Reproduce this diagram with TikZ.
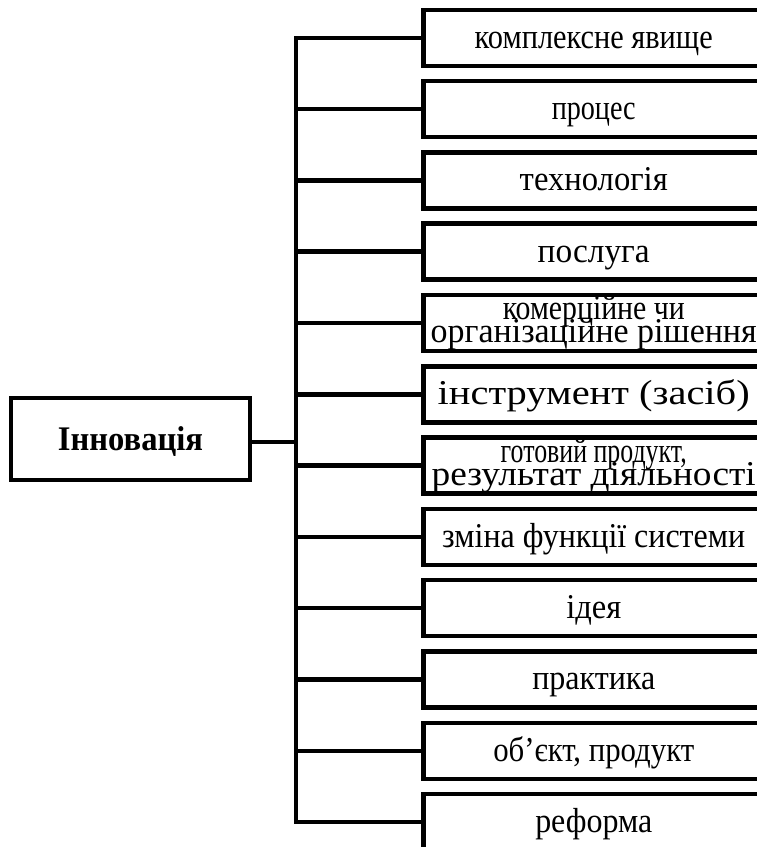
\documentclass[tikz,border=0pt]{standalone}
\usepackage{fontspec}
\setmainfont{Liberation Serif}
\usepackage{graphicx}

% one line of box text, stretched to a given width and set tall
\newcommand\tl[2]{\resizebox{#1}{1.2\height}{#2}}
% two centred lines of box text, each stretched to its own width
\newcommand\ttl[4]{\vbox{\baselineskip=23pt\lineskiplimit=-100pt\lineskip=0pt
  \halign{\hfil##\hfil\cr\tl{#1}{#2}\cr\tl{#3}{#4}\cr}}}

\begin{document}
\begin{tikzpicture}[x=1pt,y=-1pt,
  line width=4.5pt,
  itembox/.style={draw, anchor=north west, minimum width=341pt, minimum height=56pt,
    inner sep=0pt, text height=38.5pt, text depth=17.5pt,
    font=\fontsize{29}{29}\selectfont},
  twobox/.style={itembox, text height=47.5pt, text depth=8.5pt},
  rootbox/.style={draw, anchor=center, minimum width=239pt, minimum height=82pt,
    inner sep=0pt, text height=52pt, text depth=30pt,
    font=\fontsize{30}{30}\selectfont\bfseries},
  link/.style={line join=miter}]
\useasboundingbox (0,0) rectangle (757,847);
\clip (0,0) rectangle (757,847);

\node[rootbox] (root) at (130.5,439) {\resizebox{145pt}{1.15\height}{Інновація}};

\node[itembox] (b1)  at (421,7.5)   {\tl{238pt}{комплексне явище}};
\node[itembox] (b2)  at (421,78.8)  {\tl{84pt}{процес}};
\node[itembox] (b3)  at (421,150.1) {\tl{148pt}{технологія}};
\node[itembox] (b4)  at (421,221.4) {\tl{112pt}{послуга}};
\node[twobox]  (b5)  at (421,292.7) {\ttl{182pt}{комерційне чи}{326pt}{організаційне рішення}};
\node[itembox] (b6)  at (421,364.0) {\tl{312pt}{інструмент (засіб)}};
\node[twobox]  (b7)  at (421,435.3) {\ttl{186pt}{готовий продукт,}{324pt}{результат діяльності}};
\node[itembox] (b8)  at (421,506.6) {\tl{303pt}{зміна функції системи}};
\node[itembox] (b9)  at (421,577.9) {\tl{55pt}{ідея}};
\node[itembox] (b10) at (421,649.2) {\tl{123pt}{практика}};
\node[itembox] (b11) at (421,720.5) {\tl{201pt}{об'єкт, продукт}};
\node[itembox] (b12) at (421,791.8) {\tl{117pt}{реформа}};

\coordinate (tr) at (296,0);

% trunk with the first and last branch
\draw[link] (b1.west) -- (b1.west -| tr) -- (b12.west -| tr) -- (b12.west);
% remaining branches
\foreach \i in {2,...,11} \draw (b\i.west) -- (b\i.west -| tr);
% link from the root box to the trunk
\draw (root.east) ++(0,3) coordinate (re) (root.east |- re) -- (re -| tr);
\end{tikzpicture}
\end{document}
